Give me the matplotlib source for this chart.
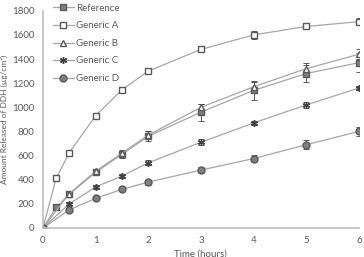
import matplotlib.pyplot as plt
from matplotlib.lines import Line2D

t_ref = [0, 0.25, 0.5, 1, 1.5, 2, 3, 4, 5, 6]
reference = [0, 170, 280, 460, 610, 760, 960, 1140, 1280, 1370]
reference_err = [0, 10, 20, 25, 30, 40, 70, 80, 70, 80]
generic_a = [0, 410, 625, 930, 1145, 1300, 1480, 1600, 1670, 1710]
generic_a_err = [0, 10, 15, 20, 20, 25, 20, 30, 25, 30]

t = [0, 0.5, 1, 1.5, 2, 3, 4, 5, 6]
generic_b = [0, 285, 470, 620, 770, 1000, 1170, 1320, 1440]
generic_b_err = [0, 15, 20, 25, 30, 30, 40, 50, 40]
generic_c = [0, 200, 340, 430, 540, 710, 870, 1020, 1160]
generic_c_err = [0, 15, 15, 15, 20, 25, 20, 25, 20]
generic_d = [0, 150, 245, 320, 380, 480, 575, 690, 800]
generic_d_err = [0, 10, 15, 15, 20, 25, 30, 35, 40]

plt.rcParams['font.family'] = 'Lato'
plt.rcParams['font.size'] = 7

fig = plt.figure(figsize=(3.64, 2.57), dpi=100)
ax = fig.add_axes([0.118, 0.113, 0.868, 0.845])

lc = '#a6a6a6'
ec = '#404040'
common = dict(color=lc, linewidth=0.9, markersize=5, ecolor=ec,
              elinewidth=0.6, capsize=2, capthick=0.6)
styles = [
    ('Reference', t_ref, reference, reference_err, 's', '#7f7f7f'),
    ('Generic A', t_ref, generic_a, generic_a_err, 's', 'white'),
    ('Generic B', t, generic_b, generic_b_err, '^', 'white'),
    ('Generic C', t, generic_c, generic_c_err, (6, 2, 0), '#404040'),
    ('Generic D', t, generic_d, generic_d_err, 'o', '#7f7f7f'),
]
handles = []
for name, x, y, e, m, fc in styles:
    mec = '#404040' if fc == '#404040' else '#595959'
    ax.errorbar(x, y, yerr=e, marker=m, mfc=fc, mec=mec, **common)
    handles.append(Line2D([], [], color=lc, linewidth=0.9, marker=m,
                          markersize=5, mfc=fc, mec=mec, label=name))

ax.set_xlim(0, 6)
ax.set_ylim(0, 1800)
ax.set_xticks(range(0, 7))
ax.set_yticks(range(0, 1801, 200))
for s in ['top', 'right']:
    ax.spines[s].set_visible(False)
for s in ['left', 'bottom']:
    ax.spines[s].set_color('#bfbfbf')
    ax.spines[s].set_linewidth(1.2)
ax.tick_params(length=0, colors='#595959', pad=6)
ax.set_xlabel('Time (hours)', color='#595959', labelpad=3)
ax.set_ylabel('Amount Released of DDH (µg/cm²)', color='#595959', fontsize=6)
ax.yaxis.set_label_coords(-0.11, 0.5)

ax.legend(handles=handles, loc='upper left', bbox_to_anchor=(0.02, 1.05),
          borderaxespad=0, frameon=False, labelcolor='#595959',
          handlelength=2.1, handletextpad=0.3, labelspacing=0.88)

fig.savefig('out.png', dpi=100)
